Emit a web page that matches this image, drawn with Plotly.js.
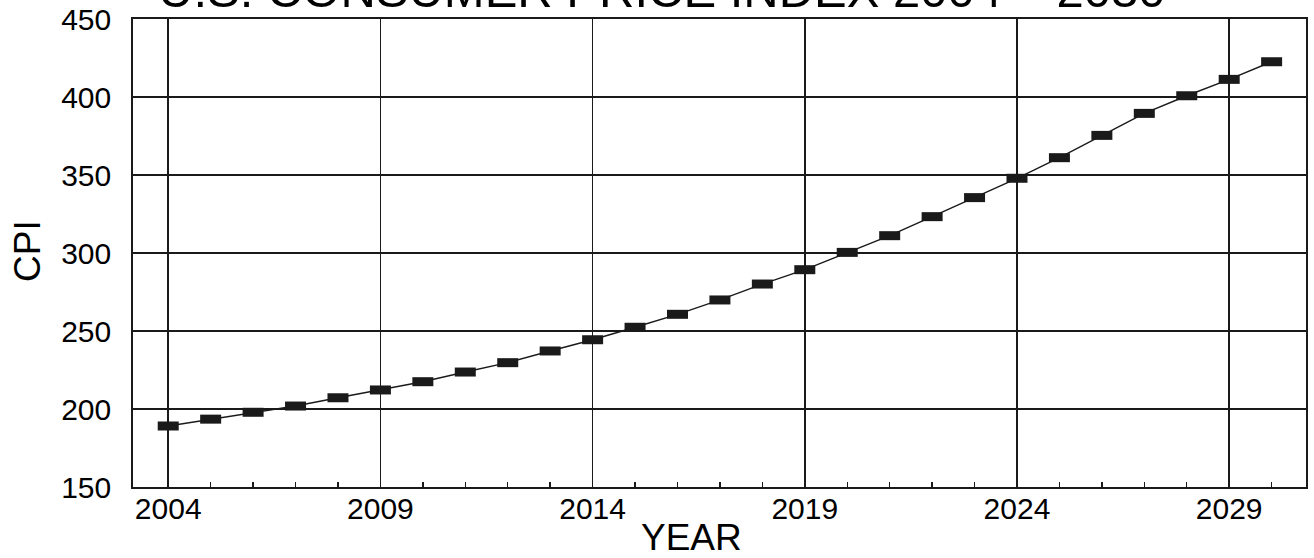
<!DOCTYPE html>
<html>
<head>
<meta charset="utf-8">
<script src="https://cdn.plot.ly/plotly-3.0.1.min.js"></script>
<style>html,body{margin:0;padding:0;background:#fff;}#chart{width:1314px;height:558px;}</style>
</head>
<body>
<div id="chart"></div>
<script>
var years = [2004,2005,2006,2007,2008,2009,2010,2011,2012,2013,2014,2015,2016,2017,2018,2019,2020,2021,2022,2023,2024,2025,2026,2027,2028,2029,2030];
var cpi = [189.1,193.5,197.9,201.9,207.2,212.2,217.5,223.7,229.7,237.2,244.4,252.4,260.7,269.9,280.1,289.3,300.4,311.1,323.3,335.5,347.9,361.1,375.4,389.5,400.8,411.3,422.6];
var titleText = "U.S. CONSUMER PRICE INDEX 2004 \u2013 2030";
var xTitle = "YEAR";
var yTitle = "CPI";

var FONT = "Liberation Sans, Arial, sans-serif";
var trace = {
  x: years, y: cpi, type: 'scatter', mode: 'lines+markers',
  line: {color: '#1a1a1a', width: 1.4},
  marker: {symbol: 'line-ew', size: 15, color: '#1a1a1a', line: {color: '#1a1a1a', width: 9}},
  hoverinfo: 'skip', showlegend: false
};
var layout = {
  width: 1314, height: 558,
  margin: {l: 133, r: 8, t: 19, b: 71, pad: 0},
  paper_bgcolor: '#ffffff', plot_bgcolor: '#ffffff',
  font: {family: FONT, color: '#000', size: 30},
  xaxis: {
    range: [2003.17, 2030.81], tick0: 2004, dtick: 5, tickmode: 'linear',
    showgrid: true, gridcolor: '#1a1a1a', gridwidth: 1.5,
    showline: true, linecolor: '#1a1a1a', linewidth: 1.8, mirror: true,
    ticks: '', ticklabelstandoff: -6, zeroline: false,
    tickfont: {family: FONT, size: 30, color: '#000'},
    minor: {dtick: 1, tick0: 2004, ticks: 'inside', ticklen: 5, tickcolor: '#1a1a1a', tickwidth: 1.4, showgrid: false}
  },
  yaxis: {
    range: [150, 450], tick0: 150, dtick: 50, tickmode: 'linear',
    showgrid: true, gridcolor: '#1a1a1a', gridwidth: 1.5,
    showline: true, linecolor: '#1a1a1a', linewidth: 1.8, mirror: true,
    ticks: '', ticklabelstandoff: 14, zeroline: false,
    tickfont: {family: FONT, size: 30, color: '#000'}
  },
  annotations: [
    {text: titleText, xref: 'paper', yref: 'paper', x: (661.5-133)/1173, y: 1.0, xanchor: 'center', yanchor: 'bottom', showarrow: false, font: {family: FONT, size: 49, color: '#000'}},
    {text: xTitle, xref: 'paper', yref: 'paper', x: (691-133)/1173, y: -0.06, xanchor: 'center', yanchor: 'top', showarrow: false, font: {family: FONT, size: 37, color: '#000'}},
    {text: yTitle, xref: 'paper', yref: 'paper', x: (27-133)/1173, y: (487-251)/468, xanchor: 'center', yanchor: 'middle', textangle: -90, showarrow: false, font: {family: FONT, size: 37, color: '#000'}}
  ]
};
Plotly.newPlot('chart', [trace], layout, {staticPlot: true, displayModeBar: false});
</script>
</body>
</html>
